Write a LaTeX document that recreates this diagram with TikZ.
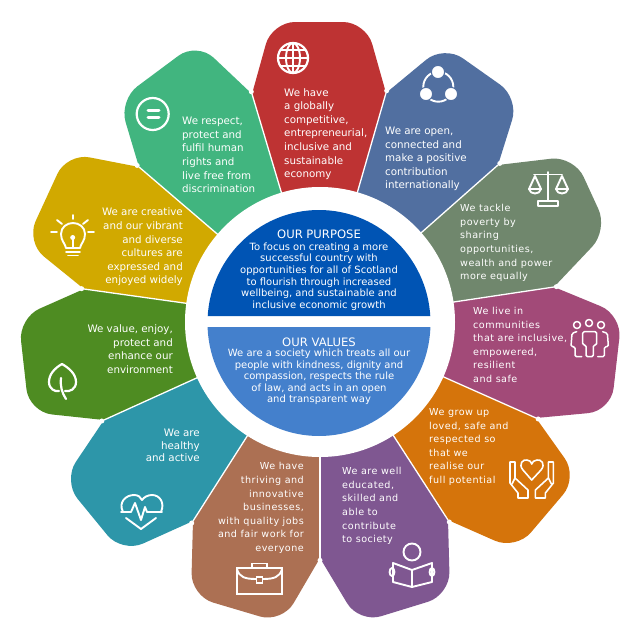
\documentclass[tikz,border=0pt]{standalone}
\usepackage{fontspec}
\usetikzlibrary{calc}
\setmainfont{DejaVu Sans}
\newfontfamily\trk[LetterSpace=5]{DejaVu Sans}
\definecolor{cRed}{HTML}{BE3333}
\definecolor{cBlue}{HTML}{516FA0}
\definecolor{cGrey}{HTML}{70876D}
\definecolor{cMag}{HTML}{A24A78}
\definecolor{cOra}{HTML}{D5740B}
\definecolor{cPur}{HTML}{7F5791}
\definecolor{cBro}{HTML}{AC7053}
\definecolor{cTeal}{HTML}{2D96A9}
\definecolor{cGre}{HTML}{4E8C22}
\definecolor{cYel}{HTML}{D1A900}
\definecolor{cLig}{HTML}{41B57F}
\definecolor{cPurp}{HTML}{0054B4}
\definecolor{cVal}{HTML}{4480CC}
\tikzset{
  x=1pt,y=-1pt,
  sidetxt/.style={text=white,inner sep=0pt,font=\fontsize{10.3}{13.6}\selectfont},
  tracktxt/.style={text=white,inner sep=0pt,font=\trk\fontsize{9.6}{13.6}\selectfont},
  midtxt/.style={text=white,inner sep=0pt,align=center,font=\fontsize{10}{11.55}\selectfont},
  headtxt/.style={text=white,inner sep=0pt,font=\fontsize{11.6}{13}\selectfont},
  seam/.style={white,line width=1.3pt},
  icon/.style={white,line width=1.9pt,line join=round,line cap=round},
  corner/.style={rounded corners=23pt},
}
\begin{document}
\begin{tikzpicture}
\useasboundingbox (0,0) rectangle (640,640);
\fill[white] (0,0) rectangle (640,640);
\coordinate (c) at (320,322);
\coordinate (j1) at (252,94);
\coordinate (j2) at (386,93);
\coordinate (j3) at (498,165);
\coordinate (j4) at (554,287);
\coordinate (j5) at (536,418);
\coordinate (j6) at (448,520);
\coordinate (j7) at (320,558);
\coordinate (j8) at (193,521);
\coordinate (j9) at (104,420);
\coordinate (j10) at (84,289);
\coordinate (j11) at (139,167);
% petals
\fill[cRed] (c) -- (j1) [corner] -- (272,22) -- (366,22) [sharp corners] -- (j2) -- cycle;
\fill[cBlue] (c) -- (j2) [corner] -- (444,45) -- (519,98) [sharp corners] -- (j3) -- cycle;
\fill[cGrey] (c) -- (j3) [corner] -- (574,156) -- (608,230) [sharp corners] -- (j4) -- cycle;
\fill[cMag] (c) -- (j4) [corner] -- (622,315) -- (611,411) [sharp corners] -- (j5) -- cycle;
\fill[cOra] (c) -- (j5) [corner] -- (578,477) -- (516,550) [sharp corners] -- (j6) -- cycle;
\fill[cPur] (c) -- (j6) [corner] -- (450,595) -- (359,623) [sharp corners] -- (j7) -- cycle;
\fill[cBro] (c) -- (j7) [corner] -- (282,623) -- (191,596) [sharp corners] -- (j8) -- cycle;
\fill[cTeal] (c) -- (j8) [corner] -- (122,553) -- (63,481) [sharp corners] -- (j9) -- cycle;
\fill[cGre] (c) -- (j9) [corner] -- (29,412) -- (18.5,318) [sharp corners] -- (j10) -- cycle;
\fill[cYel] (c) -- (j10) [corner] -- (26,242) -- (67,153) [sharp corners] -- (j11) -- cycle;
\fill[cLig] (c) -- (j11) [corner] -- (119,100) -- (197,42) [sharp corners] -- (j1) -- cycle;
% seams and notches
\foreach \j in {1,...,11} {
  \draw[seam] (c) -- (j\j);
  \fill[white] ($(c)!1.01!(j\j)$) circle[radius=2.5];
}
% hub
\fill[white] (c) circle[radius=135];
\begin{scope}
\clip[rounded corners=2pt] (200,200) rectangle (440,316);
\fill[cPurp] (319,323) ellipse[x radius=111.5,y radius=113];
\end{scope}
\begin{scope}
\clip[rounded corners=2pt] (200,327) rectangle (440,450);
\fill[cVal] (319,323) ellipse[x radius=111.5,y radius=113];
\end{scope}
% centre text
\node[headtxt] (purposeHead) at (319,234) {OUR PURPOSE};
\node[midtxt] (purposeText) at (319,276.5) {To focus on creating a more\\successful country with\\opportunities for all of Scotland\\to flourish through increased\\wellbeing, and sustainable and\\inclusive economic growth};
\node[headtxt] (valuesHead) at (319,342) {OUR VALUES};
\node[midtxt] (valuesText) at (319,377) {We are a society which treats all our\\people with kindness, dignity and\\compassion, respects the rule\\of law, and acts in an open\\and transparent way};
% petal text
\node[sidetxt,anchor=west,align=left] (tRed) at (284,134) {We have\\a globally\\competitive,\\entrepreneurial,\\inclusive and\\sustainable\\economy};
\node[sidetxt,anchor=west,align=left] (tBlue) at (385,159) {We are open,\\connected and\\make a positive\\contribution\\internationally};
\node[tracktxt,anchor=west,align=left] (tGrey) at (460,243) {We tackle\\poverty by\\sharing\\opportunities,\\wealth and power\\more equally};
\node[tracktxt,anchor=west,align=left] (tMag) at (473,345) {We live in\\communities\\that are inclusive,\\empowered,\\resilient\\and safe};
\node[tracktxt,anchor=west,align=left] (tOra) at (429,447) {We grow up\\loved, safe and\\respected so\\that we\\realise our\\full potential};
\node[tracktxt,anchor=west,align=left] (tPur) at (342,506) {We are well\\educated,\\skilled and\\able to\\contribute\\to society};
\node[tracktxt,anchor=east,align=right] (tBro) at (304,508) {We have\\thriving and\\innovative\\businesses,\\with quality jobs\\and fair work for\\everyone};
\node[sidetxt,anchor=east,align=right,font=\fontsize{10.3}{12.8}\selectfont] (tTeal) at (200,445.5) {We are\\healthy\\and active};
\node[sidetxt,anchor=east,align=right] (tGre) at (173,349) {We value, enjoy,\\protect and\\enhance our\\environment};
\node[sidetxt,anchor=east,align=right] (tYel) at (183,247) {We are creative\\and our vibrant\\and diverse\\cultures are\\expressed and\\enjoyed widely};
\node[sidetxt,anchor=west,align=left] (tLig) at (182,155) {We respect,\\protect and\\fulfil human\\rights and\\live free from\\discrimination};
% globe
\begin{scope}[icon]
\draw[line width=2.2pt] (293,58) circle[radius=15];
\draw (293,58) ellipse[x radius=7,y radius=15];
\draw (293,43) -- (293,73);
\draw (278,58) -- (308,58);
\draw (281,50) -- (305,50);
\draw (281,66) -- (305,66);
\end{scope}
% network
\draw[icon] (438.3,86.7) circle[radius=15];
\foreach \p in {(438,72),(426,94),(451,94)} \fill[white,draw=cBlue,line width=1pt] \p circle[radius=6.6];
% scales
\begin{scope}[icon]
\draw (548,172) -- (548,200);
\draw (534,174.5) -- (562,174.5);
\draw (535,176) -- (529,189) -- (541,189) -- cycle;
\draw (529,189) .. controls (530,195) and (540,195) .. (541,189);
\draw (562,176) -- (556,189) -- (568,189) -- cycle;
\draw (556,189) .. controls (557,195) and (567,195) .. (568,189);
\draw (538,201) rectangle (558,206);
\end{scope}
% people
\begin{scope}[icon,line width=1.5pt]
\draw (577,325) circle[radius=3.5];
\draw (589,323) circle[radius=3.5];
\draw (601,325) circle[radius=3.5];
\draw[rounded corners=1.5pt] (582.7,331.7) -- (596.7,331.7) -- (596.7,345) -- (593.3,345) -- (593.3,356.7) -- (586,356.7) -- (586,345) -- (582.7,345) -- cycle;
\draw[rounded corners=1.5pt] (576.7,331.7) -- (572,333.3) -- (571,346.7) -- (575,346.7) -- (575,356.7) -- (581.7,356.7);
\draw[rounded corners=1.5pt] (602.7,331.7) -- (607.4,333.3) -- (608.4,346.7) -- (604.4,346.7) -- (604.4,356.7) -- (597.7,356.7);
\end{scope}
% hands and heart
\begin{scope}[icon,line width=1.6pt]
\draw (531.7,480) -- (523,470) .. controls (518,464) and (523,459) .. (527,460) .. controls (530,460) and (531,462) .. (531.7,464) .. controls (532.5,462) and (534,460) .. (537,460) .. controls (541,459) and (546,464) .. (541,470) -- cycle;
\draw (510,462) -- (515,462) -- (515,478) -- (528,490) -- (528,498) -- (518,498) -- (518,493) -- (510,483) -- cycle;
\draw (553.4,462) -- (548.4,462) -- (548.4,478) -- (535.4,490) -- (535.4,498) -- (545.4,498) -- (545.4,493) -- (553.4,483) -- cycle;
\draw (515,478) -- (512,484);
\draw (548.4,478) -- (551.4,484);
\end{scope}
% reader
\begin{scope}[icon]
\draw (412,552) circle[radius=8.5];
\draw (393,563) -- (412,570) -- (432,563) -- (432,582) -- (412,587) -- (393,582) -- cycle;
\draw (412,570) -- (412,587);
\draw (392,572) ellipse[x radius=2.4,y radius=4];
\draw (432,572) ellipse[x radius=2.4,y radius=4];
\end{scope}
% briefcase
\begin{scope}[icon,line cap=butt,line join=miter]
\draw (237,568) rectangle (282,594);
\draw (252,568) -- (252,563.5) -- (267,563.5) -- (267,568);
\draw (237,569) .. controls (239,577) and (245,579) .. (256,579);
\draw (282,569) .. controls (280,577) and (274,579) .. (263,579);
\draw (256.5,577) rectangle (262.5,583);
\end{scope}
% pulse heart
\begin{scope}[icon]
\draw (123,512) .. controls (118,502) and (126,495) .. (134,495) .. controls (138,495) and (141,497) .. (142,500) .. controls (144,497) and (148,495) .. (152,495) .. controls (160,495) and (165,503) .. (161,512);
\draw (121,512) -- (131,512) -- (135,503) -- (141,520) -- (145,507) -- (147,512) -- (162,512);
\draw (126,518) -- (141,529) -- (156,518);
\end{scope}
% leaf
\begin{scope}[icon,line width=2.2pt]
\draw (62,364) .. controls (55,368) and (49,374) .. (49,382) .. controls (49,389) and (55,392) .. (59,391);
\draw (62,364) .. controls (69,368) and (76,374) .. (76,382) .. controls (76,389) and (70,392) .. (65,391);
\draw (61,378) .. controls (60,386) and (62,393) .. (66,399);
\end{scope}
% bulb
\begin{scope}[icon]
\draw (66,248) .. controls (65,243) and (61,241) .. (61,234) .. controls (61,227) and (67,223) .. (73,223) .. controls (79,223) and (85,227) .. (85,234) .. controls (85,241) and (81,243) .. (80,248) -- cycle;
\draw (66,252) -- (80,252);
\draw (68,255.5) -- (78,255.5);
\draw (72.7,238) -- (72.7,247);
\fill[white] (72.7,237.5) circle[radius=2.5];
\draw (72.7,215) -- (72.7,219);
\draw (57,220) -- (62,224);
\draw (88,220) -- (83,224);
\draw (51,232) -- (57,232);
\draw (88,232) -- (94,232);
\end{scope}
% equal
\begin{scope}[icon]
\draw[line width=2.2pt] (152.7,114) circle[radius=16];
\draw[line width=3pt] (148,110.7) -- (159,110.7);
\draw[line width=3pt] (148,117.5) -- (159,117.5);
\end{scope}
\end{tikzpicture}
\end{document}
